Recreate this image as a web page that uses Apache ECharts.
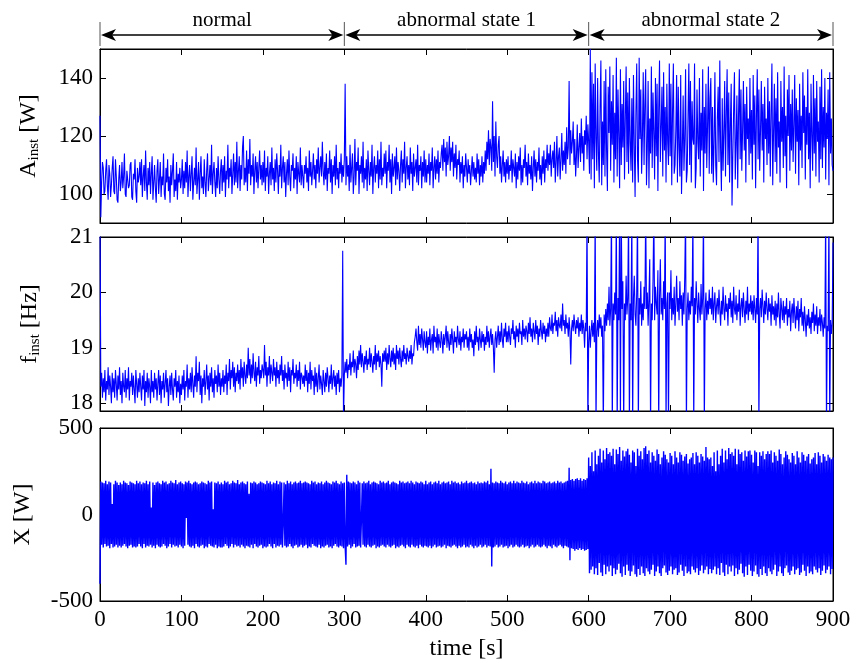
<!DOCTYPE html>
<html>
<head>
<meta charset="utf-8">
<script src="https://cdn.jsdelivr.net/npm/echarts@6.0.0/dist/echarts.min.js"></script>
<style>
html,body{margin:0;padding:0;background:#fff;}
#chart{width:854px;height:662px;}
</style>
</head>
<body>
<div id="chart"></div>
<script>
// ---- data (one sample per STEP seconds) ----
const STEP = 1; // seconds between samples
const aInst = [
127,92,104,111,109,100,101,108,112,103, 98,110,107,99,103,109,113,101,100,112, 106,98,97,105,110,101,104,111,102,106, 114,100,99,108,108,102,103,110,111,99, 98,107,105,112,101,97,109,104,106,111,
103,112,99,106,110,101,115,104,98,109, 103,111,100,107,113,98,104,110,102,97, 108,112,100,105,111,99,106,103,114,100, 98,109,104,112,101,106,97,110,103,108, 114,99,105,101,111,98,107,104,109,102,
105,112,100,108,102,111,104,115,99,106, 110,101,107,113,98,104,109,103,116,100, 105,111,98,107,113,102,106,100,112,104, 99,108,114,101,105,110,103,117,100,107, 111,104,99,109,102,113,105,100,108,112,
101,110,104,113,99,108,105,117,102,109, 106,112,100,107,114,103,111,104,118,102, 108,113,101,110,105,116,120,103,109,104, 115,101,112,107,119,103,110,106,114,100, 108,113,104,111,102,109,115,105,110,103,
111,104,115,101,109,106,113,100,107,111, 103,116,105,109,101,112,104,114,108,100, 110,106,117,102,109,113,104,111,99,107, 112,103,115,106,101,110,108,114,102,109, 105,113,100,111,107,104,116,103,110,106,
102,110,107,113,104,109,101,115,106,111, 103,108,114,105,110,102,112,107,116,104, 109,113,106,118,108,103,111,105,114,101, 109,107,115,104,112,100,110,106,113,103, 117,105,109,102,111,107,114,104,110,106,
112,138,103,113,106,110,101,117,104,109, 114,100,106,119,103,111,108,116,100,110, 107,113,104,118,102,109,105,112,101,115, 108,103,111,106,117,100,109,113,104,110, 107,115,102,112,105,118,103,109,106,114,
107,115,102,111,108,117,104,112,100,114, 106,109,113,103,116,105,111,108,101,110, 115,104,112,107,118,102,109,113,105,110, 103,116,107,111,101,114,106,109,112,104, 117,103,110,108,113,102,111,106,115,104,
112,104,110,107,114,103,111,108,116,102, 109,113,105,112,107,115,104,111,109,114, 117,108,119,111,116,106,118,110,113,120, 108,116,111,118,106,114,109,117,105,112, 110,115,104,111,107,113,102,110,106,114,
109,104,112,107,110,103,108,113,106,111, 105,109,104,114,107,112,103,110,106,113, 104,111,107,115,108,118,112,122,110,119, 116,108,132,111,120,106,125,113,109,117, 120,107,113,104,110,115,106,111,104,112,
107,113,105,110,108,115,104,112,109,106, 114,102,111,105,113,108,116,103,110,104, 112,109,117,106,111,103,114,107,110,105, 113,101,109,115,106,112,104,111,108,116, 105,110,103,113,107,115,104,112,109,117,
108,114,110,117,106,112,115,109,118,104, 111,120,106,113,116,105,112,121,108,115, 110,118,107,123,112,116,139,110,122,114, 118,125,110,119,106,113,124,109,116,121, 111,126,114,120,108,122,117,127,112,124,
118,107,150,105,142,112,138,102,145,119, 108,140,114,104,130,146,103,125,110,139, 106,143,115,101,137,121,144,108,132,117, 141,104,128,112,147,106,136,120,102,143, 110,131,116,139,105,126,144,111,135,107,
140,118,108,133,104,141,117,99,128,145, 112,104,147,119,136,107,120,142,110,131, 143,103,116,139,102,126,114,144,109,135, 121,105,140,113,138,101,129,146,111,123, 137,106,142,115,130,104,138,118,110,145,
113,138,103,129,145,107,110,122,141,104, 137,116,106,141,100,115,134,108,119,143, 104,108,127,145,110,139,104,132,119,117, 145,102,109,136,118,112,140,106,128,115, 143,101,130,114,138,109,124,144,107,133,
140,107,130,104,118,142,110,103,126,137, 111,146,115,101,133,108,121,139,106,128, 143,110,135,104,124,138,96,113,129,142, 105,117,134,102,127,143,112,136,108,122, 139,115,131,104,137,119,126,110,140,114,
129,105,141,117,134,102,127,143,112,136, 108,122,139,115,131,104,137,119,126,110, 140,114,132,106,128,145,103,121,138,111, 133,107,142,116,125,104,139,118,130,109, 144,113,127,102,136,120,141,108,131,115,
136,111,124,141,107,133,118,129,103,138, 115,127,109,142,121,134,105,130,117,143, 112,128,102,138,120,108,141,114,133,106, 139,118,125,104,137,112,143,109,130,116, 140,105,128,119,136,103,142,114,126,110,
108
];
const fInst = [
21.5,18.3,18.55,18.1,18.45,18.2,18.6,18.05,18.4,18.25, 18.65,18.15,18.5,18.3,18.0,18.55,18.2,18.45,18.1,18.6, 18.35,18.05,18.5,18.25,18.65,18.15,18.4,18.0,18.55,18.3, 18.2,18.6,18.1,18.45,18.25,18.65,18.05,18.4,18.3,18.55, 18.15,18.5,18.25,18.0,18.6,18.35,18.1,18.45,18.2,18.55,
18.3,18.05,18.5,18.25,18.6,17.95,18.4,18.2,18.55,18.1, 18.45,18.3,18.0,18.6,18.2,18.4,18.1,18.55,18.25,18.45, 18.05,18.35,18.6,18.15,18.5,18.0,18.4,18.25,18.55,18.1, 18.35,18.6,18.2,18.45,17.95,18.3,18.5,18.15,18.55,18.25, 18.05,18.45,18.3,18.6,18.1,18.4,18.2,18.5,18.0,18.35,
18.15,18.5,18.25,18.6,18.05,18.4,18.3,18.7,18.1,18.45, 18.25,18.55,18.2,18.65,18.35,18.1,18.5,18.3,18.85,18.2, 18.55,18.4,18.75,18.15,18.5,18.0,18.45,18.3,18.6,18.15, 18.4,18.7,18.25,18.5,18.05,18.55,18.3,18.65,18.2,18.45, 18.1,18.6,18.35,18.5,18.2,18.7,18.3,18.55,18.15,18.45,
18.3,18.6,18.2,18.5,18.35,18.7,18.15,18.55,18.4,18.8, 18.25,18.6,18.45,18.75,18.3,18.65,18.2,18.55,18.4,18.7, 18.35,18.6,18.25,18.8,18.45,18.65,18.3,18.75,18.5,18.35, 18.7,18.45,19.0,18.5,18.8,18.35,18.7,18.45,18.9,18.55, 18.4,18.75,18.3,18.65,18.5,18.85,18.35,18.6,18.45,18.7,
18.6,18.45,19.05,18.5,18.75,18.3,18.65,18.5,18.85,18.35, 18.7,18.55,18.4,18.8,18.5,18.65,18.3,18.75,18.45,18.6, 18.35,18.7,18.5,18.85,18.4,18.6,18.25,18.7,18.45,18.55, 18.3,18.75,18.4,18.65,18.2,18.6,18.5,18.8,18.35,18.55, 18.45,18.7,18.3,18.6,18.4,18.75,18.25,18.55,18.5,18.35,
18.5,18.3,18.7,18.4,18.6,18.2,18.55,18.35,18.75,18.25, 18.6,18.4,18.5,18.15,18.65,18.3,18.55,18.2,18.45,18.7, 18.25,18.5,18.35,18.15,18.6,18.4,18.2,18.55,18.3,18.65, 18.45,18.2,18.5,18.35,18.7,18.25,18.45,18.6,18.3,18.5, 18.15,18.55,18.35,18.6,18.2,18.45,18.3,18.5,20.75,17.7,
18.5,18.75,18.55,18.8,18.45,18.7,18.6,18.9,18.5,18.75, 18.65,18.95,18.55,18.8,18.7,18.45,18.85,18.6,18.95,18.7, 19.05,18.65,18.9,18.75,18.55,18.85,18.7,18.95,18.6,18.8, 18.7,19.0,18.65,18.9,18.75,18.55,18.85,18.7,19.05,18.6, 18.9,18.75,18.95,18.65,18.85,18.7,18.3,18.9,18.75,18.95,
18.75,19.0,18.6,18.9,18.7,19.05,18.8,18.65,18.95,18.75, 19.0,18.7,18.9,18.6,19.05,18.8,18.95,18.7,19.0,18.8, 18.65,18.95,18.75,19.05,18.8,18.9,18.7,19.0,18.85,18.75, 18.95,18.8,19.05,18.7,18.9,18.85,19.1,19.2,19.35,19.1, 18.95,19.4,19.05,19.25,19.0,19.35,19.15,18.95,19.3,19.1,
19.0,19.3,18.9,19.2,19.05,19.35,18.95,19.15,19.25,18.9, 19.4,19.1,19.2,19.0,19.35,18.95,19.25,19.1,19.0,19.3, 19.15,18.9,19.25,19.05,19.2,19.4,19.0,19.3,19.1,18.95, 19.25,19.05,19.35,19.15,18.9,19.3,19.1,19.2,19.0,19.4, 19.15,19.05,19.3,18.95,19.2,19.1,19.35,19.0,19.25,19.15,
19.3,19.0,19.2,18.95,19.35,19.1,19.25,19.0,19.15,18.85, 19.3,19.05,19.4,19.1,19.2,18.95,19.35,19.15,19.0,19.3, 19.1,19.25,18.95,19.2,19.05,19.4,19.1,19.3,19.0,19.2, 19.35,19.05,19.25,19.0,18.55,19.15,19.3,19.0,19.2,19.4, 19.05,19.3,19.1,19.45,19.15,19.0,19.35,19.2,19.45,19.1,
19.3,19.1,19.4,19.2,19.05,19.35,19.25,19.5,19.15,19.3, 19.0,19.4,19.2,19.35,19.1,19.45,19.25,19.3,19.05,19.5, 19.2,19.35,19.15,19.4,19.3,19.1,19.45,19.25,19.55,19.2, 19.35,19.1,19.45,19.3,19.15,19.5,19.25,19.4,19.05,19.35, 19.2,19.5,19.3,19.15,19.45,19.25,19.4,19.1,19.35,19.2,
19.45,19.2,19.55,19.35,19.3,19.6,19.25,19.45,19.4,19.65, 19.3,19.5,19.2,19.55,19.4,19.35,19.6,19.3,19.8,19.4, 19.5,19.25,19.6,19.35,19.45,19.2,19.55,19.3,18.7,19.35, 19.5,19.3,19.6,19.4,19.25,19.5,19.35,19.55,19.2,19.45, 19.3,19.6,19.25,19.5,19.35,19.0,19.45,19.3,21.5,17.5,
19.1,19.4,19.0,19.3,19.5,19.2,19.45,19.1,21.5,17.5, 19.3,19.5,19.2,19.6,19.35,19.55,19.2,19.4,17.5,19.6, 19.3,19.7,19.4,19.8,19.5,20.1,19.4,19.7,21.5,17.5, 19.8,19.5,20.0,19.6,21.5,17.5,19.9,19.5,21.5,17.5, 21.5,19.7,20.2,17.5,19.8,19.5,20.3,19.6,19.9,21.5,
17.5,19.8,19.5,21.5,17.5,19.9,20.3,19.6,19.4,20.0, 21.5,17.5,19.9,19.6,20.2,19.4,19.8,19.5,20.1,19.7, 21.5,19.7,20.0,19.4,19.9,20.6,17.5,19.8,19.5,20.2, 21.5,19.5,20.1,19.8,19.6,20.4,17.5,19.9,20.6,19.6, 19.9,19.5,20.2,19.7,21.5,17.5,19.8,20.0,17.5,20.0,
19.7,20.4,19.5,19.9,19.6,20.1,19.4,19.8,20.3,19.65, 19.9,19.5,20.2,19.7,19.95,19.4,20.0,19.6,20.3,21.5, 17.5,19.7,20.0,19.5,19.85,19.6,20.1,19.75,21.5,17.5, 19.9,19.6,20.2,19.8,19.45,20.0,19.7,19.5,20.15,19.6, 19.9,21.5,17.5,19.7,20.0,19.5,19.85,19.6,20.05,19.7,
19.9,19.6,20.1,19.5,19.8,20.0,19.45,19.75,19.9,19.6, 20.05,19.7,19.4,19.85,19.6,20.1,19.7,19.5,19.95,19.65, 19.8,19.4,19.9,19.7,20.0,19.55,19.85,19.45,20.1,19.7, 19.6,19.95,19.5,19.8,19.65,20.05,19.4,19.75,19.9,19.55, 20.0,19.7,19.45,19.85,19.6,20.1,19.5,19.8,19.65,19.95,
19.6,19.85,19.5,19.95,19.7,19.45,19.9,19.6,21.5,17.5, 19.7,19.9,19.55,20.05,19.75,19.45,19.85,19.6,20.0,19.7, 19.5,19.9,19.65,19.8,19.4,19.95,19.6,19.75,19.5,19.85, 19.4,19.8,19.55,20.0,19.6,19.35,19.9,19.7,19.5,19.85, 19.45,19.75,19.6,19.9,19.4,19.7,19.55,19.85,19.3,19.65,
19.8,19.45,19.9,19.6,19.35,19.75,19.5,19.85,19.3,19.7, 19.55,19.9,19.4,19.65,19.3,19.75,19.5,19.2,19.6,19.4, 19.7,19.35,19.55,19.25,19.65,19.45,19.8,19.3,19.6,19.4, 19.75,19.25,19.55,19.4,19.7,19.3,19.6,19.45,19.2,19.55, 19.35,21.5,17.5,19.4,19.3,21.5,17.5,19.5,19.25,19.45,
20.9
];
const xSig = [
-400,190,-175,185,-190,180,-170,195,-185,175, -180,190,-195,185,-170,60,-190,175,-185,195, -175,185,-190,170,-180,185,-190,175,-180,195, -170,185,-185,180,-195,170,-180,190,-175,185, -190,180,-185,175,-190,195,-185,180,-170,190,
-185,175,-195,185,-170,180,-190,195,-180,175, -185,190,-175,40,-190,185,-180,170,-195,185, -175,190,-185,180,-190,175,-185,195,-170,185, -180,190,-195,175,-185,180,-170,195,-190,185, -175,180,-185,200,-180,175,-190,185,-175,190,
-185,180,-195,175,-180,190,-20,185,-175,195, -185,180,-190,175,-180,185,-195,190,-170,185, -185,175,-190,180,-180,190,-175,185,-195,180, -185,175,-190,195,-170,185,-180,190,-185,30, -190,185,-175,180,-195,190,-185,175,-190,185,
-190,175,-185,195,-170,185,-180,190,-195,175, -185,180,-170,195,-190,185,-175,180,-185,200, -180,175,-190,185,-175,190,-185,180,-195,175, -180,190,-185,120,-190,185,-175,180,-195,190, -170,185,-185,175,-190,180,-180,190,-175,185,
-195,180,-185,175,-190,195,-185,180,-170,190, -185,175,-195,185,-170,180,-190,195,-180,175, -185,190,-175,185,-190,-60,185,-180,175,-190, 195,-185,180,-170,190,-185,175,-195,185,-180, 190,-175,180,-190,185,-185,195,-175,180,-190,
185,-180,190,-175,185,-195,180,-185,175,-190, 195,-170,185,-180,190,-185,175,-190,185,-175, 180,-195,190,-185,175,-190,185,-180,195,-175, 185,-190,180,-185,175,-195,190,-180,185,-170, 195,-185,180,-190,175,-180,190,-185,180,-195,
185,-180,-290,230,-185,190,-175,185,-195,180, -185,190,-170,185,-190,175,-185,195,-180,185, -190,-30,180,-175,190,-185,180,-190,185,-175, 195,-185,175,-190,185,-180,190,-175,185,-195, 180,-185,175,-190,195,-180,185,-175,190,-185,
180,-190,185,-175,195,-185,175,-190,185,-180, 190,-175,185,-195,180,-185,175,-190,195,-180, 185,-175,190,-185,180,-195,185,-175,190,-185, 180,-190,195,-175,185,-185,175,-190,190,-180, 185,-195,180,-175,190,-185,185,-190,175,-180,
195,-185,175,-190,185,-180,190,-195,175,-185, 185,-175,190,-190,180,-185,195,-180,175,-190, 185,-185,190,-175,180,-195,185,-180,190,-185, 175,-190,195,-180,185,-175,190,-185,180,-195, 185,-180,175,-190,190,-185,180,-175,185,-190,
195,-185,180,-190,185,-175,190,-185,180,-195, 185,-180,175,-190,190,-185,180,-175,185,-190, 180,-185,190,-175,185,-190,195,-180,175,-185, 265,-300,185,-190,180,-185,190,-175,185,-190, 180,-185,195,-175,185,-190,180,-185,190,-180,
175,-195,185,-185,190,-175,180,-190,195,-185, 180,-175,190,-185,185,-190,180,-185,195,-175, 185,-190,180,-185,190,-180,175,-195,185,-185, 190,-175,180,-190,195,-185,180,-175,190,-185, 185,-190,180,-185,195,-175,190,-185,180,-195,
185,-180,190,-185,180,-195,185,-175,190,-185, 180,-190,195,-180,185,-175,190,-185,180,-195, 185,-180,190,-185,195,-190,270,-265,200,-195, 205,-200,195,-210,205,-200,210,-205,200,-195, 210,-205,195,-200,205,-210,200,-205,210,-200,
330,-340,280,-320,360,-300,250,-345,370,-310, 290,-350,340,-280,380,-335,300,-355,370,-290, 320,-345,385,-300,350,-330,360,-295,340,-355, 380,-310,290,-345,375,-320,350,-285,390,-340, 310,-360,370,-300,335,-350,365,-290,380,-325,
345,-355,300,-330,370,-295,360,-345,280,-360, 380,-315,340,-350,365,-300,320,-340,385,-355, 395,-310,350,-330,370,-345,300,-320,360,-290, 340,-355,310,-330,375,-300,350,-340,290,-355, 330,-310,365,-295,345,-335,320,-350,300,-325,
355,-300,340,-345,290,-320,365,-310,330,-350, 300,-335,360,-290,345,-325,310,-355,335,-300, 350,-340,295,-330,320,-345,330,-300,355,-320, 290,-335,360,-310,340,-350,300,-325,350,-295, 335,-340,310,-320,390,-300,330,-345,320,-315,
330,-340,280,-320,360,-300,250,-345,370,-310, 290,-350,340,-280,380,-335,300,-355,370,-290, 320,-345,385,-300,350,-330,360,-295,340,-355, 380,-310,290,-345,375,-320,350,-285,360,-340, 310,-360,370,-300,335,-350,365,-290,370,-325,
345,-355,300,-330,370,-295,360,-345,280,-360, 360,-315,340,-350,365,-300,320,-340,350,-355, 365,-310,350,-330,370,-345,300,-320,360,-290, 340,-355,310,-330,375,-300,350,-340,290,-355, 330,-310,365,-295,345,-335,320,-350,300,-325,
355,-300,340,-345,290,-320,365,-310,330,-350, 300,-335,360,-290,345,-325,310,-355,335,-300, 350,-340,295,-330,320,-345,330,-300,355,-320, 290,-335,360,-310,340,-350,300,-325,350,-295, 335,-340,310,-320,345,-300,330,-345,320,-315,
330
];
const aTicks = [100, 120, 140];
const fTicks = [18, 19, 20, 21];
const xSigTicks = [-500, 0, 500];
const stateBounds = [0, 300, 600, 900];
const stateLabels = ['normal', 'abnormal state 1', 'abnormal state 2'];

// ---- chart ----
const FONT = 'Liberation Serif';
const chart = echarts.init(document.getElementById('chart'), null, {renderer: 'canvas'});
const pairs = arr => arr.map((v, i) => [i * STEP, v]);

const grids = [
  {left: 100, top: 49, width: 733, height: 174},
  {left: 100, top: 237, width: 733, height: 174},
  {left: 100, top: 428, width: 733, height: 174}
].map(g => Object.assign({show: true, borderColor: '#000', borderWidth: 1, backgroundColor: 'transparent'}, g));

const tickStyle = {show: true, inside: true, length: 6, lineStyle: {color: '#000', width: 1}};
const lineStyleAxis = {show: true, onZero: false, lineStyle: {color: '#000', width: 1}};
const labelStyle = {color: '#000', fontFamily: FONT, fontSize: 23};

const xAxes = [];
for (let i = 0; i < 3; i++) {
  ['bottom', 'top'].forEach(pos => {
    const showLbl = (i === 2 && pos === 'bottom');
    xAxes.push({
      type: 'value', gridIndex: i, position: pos, min: 0, max: 900, interval: 100,
      axisLine: lineStyleAxis, axisTick: tickStyle, splitLine: {show: false},
      axisLabel: Object.assign({show: showLbl, margin: 7}, labelStyle),
      name: showLbl ? 'time [s]' : '', nameLocation: 'middle', nameGap: 36,
      nameTextStyle: {color: '#000', fontFamily: FONT, fontSize: 24}
    });
  });
}

const yDefs = [
  {min: 90, max: 150, ticks: aTicks, name: 'A{s|inst} [W]', gap: 58},
  {min: 17.86, max: 21, ticks: fTicks, name: 'f{s|inst} [Hz]', gap: 57},
  {min: -500, max: 500, ticks: xSigTicks, name: 'X [W]', gap: 65}
];
const yAxes = [];
yDefs.forEach((d, i) => {
  ['left', 'right'].forEach(pos => {
    const left = pos === 'left';
    yAxes.push({
      type: 'value', gridIndex: i, position: pos, min: d.min, max: d.max,
      axisLine: lineStyleAxis,
      axisTick: Object.assign({customValues: d.ticks}, tickStyle),
      axisLabel: Object.assign({show: left, customValues: d.ticks, margin: 7}, labelStyle),
      splitLine: {show: false},
      name: left ? d.name : '', nameLocation: 'middle', nameGap: d.gap, nameRotate: 90,
      nameTextStyle: {
        color: '#000', fontFamily: FONT, fontSize: 24,
        rich: {s: {fontFamily: FONT, fontSize: 15, color: '#000', padding: [11, 0, 0, 0]}}
      }
    });
  });
});

const mkSeries = (arr, i, w) => ({
  type: 'line', xAxisIndex: i * 2, yAxisIndex: i * 2, data: pairs(arr),
  showSymbol: false, symbol: 'none', clip: true, animation: false,
  lineStyle: {color: '#0000ff', width: w}, emphasis: {disabled: true}
});

chart.setOption({
  animation: false,
  backgroundColor: '#fff',
  grid: grids,
  xAxis: xAxes,
  yAxis: yAxes,
  series: [mkSeries(aInst, 0, 1.1), mkSeries(fInst, 1, 1.1), mkSeries(xSig, 2, 1.4)]
});

// ---- state annotation above the top panel ----
const px = stateBounds.map(v => chart.convertToPixel({xAxisIndex: 0}, v));
const ay = 35;
const g = [];
px.forEach(x => g.push({type: 'line', shape: {x1: x, y1: 22, x2: x, y2: 46}, style: {stroke: '#555', lineWidth: 1}}));
for (let k = 0; k < 3; k++) {
  const a = px[k] + 1, b = px[k + 1] - 1;
  g.push({type: 'line', shape: {x1: a + 8, y1: ay, x2: b - 8, y2: ay}, style: {stroke: '#000', lineWidth: 1.5}});
  g.push({type: 'polygon', shape: {points: [[a, ay], [a + 15, ay - 6], [a + 11, ay], [a + 15, ay + 6]]}, style: {fill: '#000'}});
  g.push({type: 'polygon', shape: {points: [[b, ay], [b - 15, ay - 6], [b - 11, ay], [b - 15, ay + 6]]}, style: {fill: '#000'}});
  g.push({type: 'text', x: (px[k] + px[k + 1]) / 2, y: 20,
    style: {text: stateLabels[k], fill: '#000', font: '21px "Liberation Serif"', align: 'center', verticalAlign: 'middle'}});
}
chart.setOption({graphic: g});
</script>
</body>
</html>
